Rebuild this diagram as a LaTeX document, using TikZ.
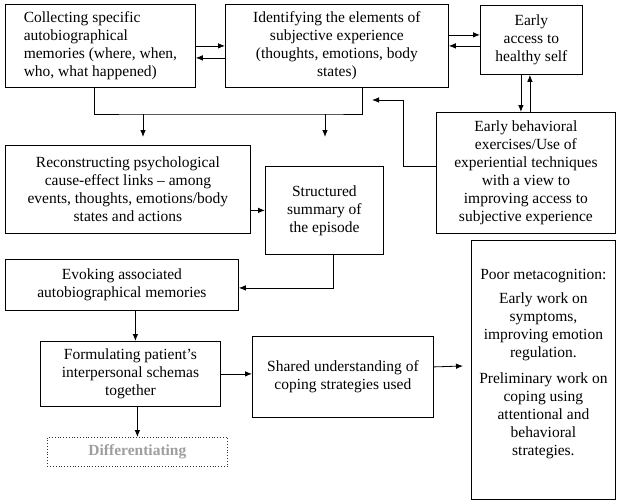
\documentclass[tikz,border=0pt]{standalone}
\usepackage{fontspec}
\setmainfont{Liberation Serif}
\usepackage{tikz}
\usetikzlibrary{arrows.meta}

\begin{document}
\begin{tikzpicture}[x=1pt,y=-1pt,
    txt/.style={font=\fontsize{15.5}{18}\selectfont},
    box/.style={txt, draw, line width=0.8pt, anchor=north west, align=center, inner sep=2pt},
    link/.style={line width=0.8pt},
    arr/.style={link, -{Latex[length=7pt,width=5.5pt]}}]
    \useasboundingbox (0,0) rectangle (620,501);

    \node[box, align=left, minimum width=190pt, minimum height=83pt] (collect) at (5,4)
      {Collecting specific\\autobiographical\\memories (where, when,\\who, what happened)};
    \node[box, minimum width=223pt, minimum height=83pt] (identify) at (225,4)
      {Identifying the elements of\\subjective experience\\(thoughts, emotions, body\\states)};
    \node[box, minimum width=102pt, minimum height=69pt] (healthy) at (480,5)
      {Early\\access to\\healthy self};
    \node[box, minimum width=179pt, minimum height=121pt] (exercise) at (436,112)
      {Early behavioral\\exercises/Use of\\experiential techniques\\with a view to\\improving access to\\subjective experience};
    \node[box, minimum width=245pt, minimum height=88pt] (reconstruct) at (5,145)
      {Reconstructing psychological\\cause-effect links -- among\\events, thoughts, emotions/body\\states and actions};
    \node[box, minimum width=118pt, minimum height=88pt] (summary) at (265,166)
      {Structured\\summary of\\the episode};
    \node[box, minimum width=233pt, minimum height=51pt] (evoke) at (5,259)
      {Evoking associated\\autobiographical memories};
    \node[box, minimum width=180pt, minimum height=65pt] (schema) at (40,341)
      {Formulating patient’s\\interpersonal schemas\\together};
    \node[box, minimum width=181pt, minimum height=81pt] (coping) at (252,336)
      {Shared understanding of\\coping strategies used};
    \node[box, minimum width=144pt, minimum height=259pt] (meta) at (471,240) {};
    \node[txt, align=center, anchor=north, inner sep=0pt] (metatext) at ([yshift=-29pt]meta.north)
      {Poor metacognition:\\[6pt]Early work on\\symptoms,\\improving emotion\\regulation.\\[8pt]Preliminary work on\\coping using\\attentional and\\behavioral\\strategies.};
    \node[box, draw=black!80, dotted, text=black!38, font=\fontsize{15.5}{18}\selectfont\bfseries,
      minimum width=180pt, minimum height=29pt] (differ) at (47,437) {Differentiating};

    \coordinate (left) at (143,114);
    \coordinate (right) at (325,114);
    \coordinate (turn) at (403,100);
    \coordinate (join) at (372,100);
    \coordinate (metain) at (463,366);

    \draw[arr] (collect.east) -- (collect.east -| identify.west);
    \draw[arr] ([yshift=-12pt]identify.west) -- ([yshift=-12pt]identify.west -| collect.east);
    \draw[arr] ([yshift=5pt]healthy.west -| identify.east) -- ([yshift=5pt]healthy.west);
    \draw[arr] ([yshift=-6pt]healthy.west) -- ([yshift=-6pt]healthy.west -| identify.east);
    \draw[arr] ([xshift=-5pt]exercise.north |- healthy.south) -- ([xshift=-5pt]exercise.north);
    \draw[arr] ([xshift=4pt]exercise.north) -- ([xshift=4pt]exercise.north |- healthy.south);

    \draw[link] ([xshift=-6pt]collect.south) |- (left) -- (right) -| ([xshift=25pt]identify.south);
    \draw[arr] (left) -- ++(0,23);
    \draw[arr] (right) -- ++(0,23);
    \draw[arr] ([yshift=7pt]exercise.west) -| (turn) -- (join);

    \draw[arr] (reconstruct.east |- summary.west) -- (summary.west);
    \draw[arr] ([xshift=9pt]summary.south) |- ([yshift=-3pt]evoke.east);
    \draw[arr] ([xshift=5pt]schema.north |- evoke.south) -- ([xshift=5pt]schema.north);
    \draw[arr] (schema.east) -- (schema.east -| coping.west);
    \draw[arr] ([yshift=10pt]coping.east) -- (metain);
    \draw[arr] (differ.north |- schema.south) -- (differ.north);
\end{tikzpicture}
\end{document}
